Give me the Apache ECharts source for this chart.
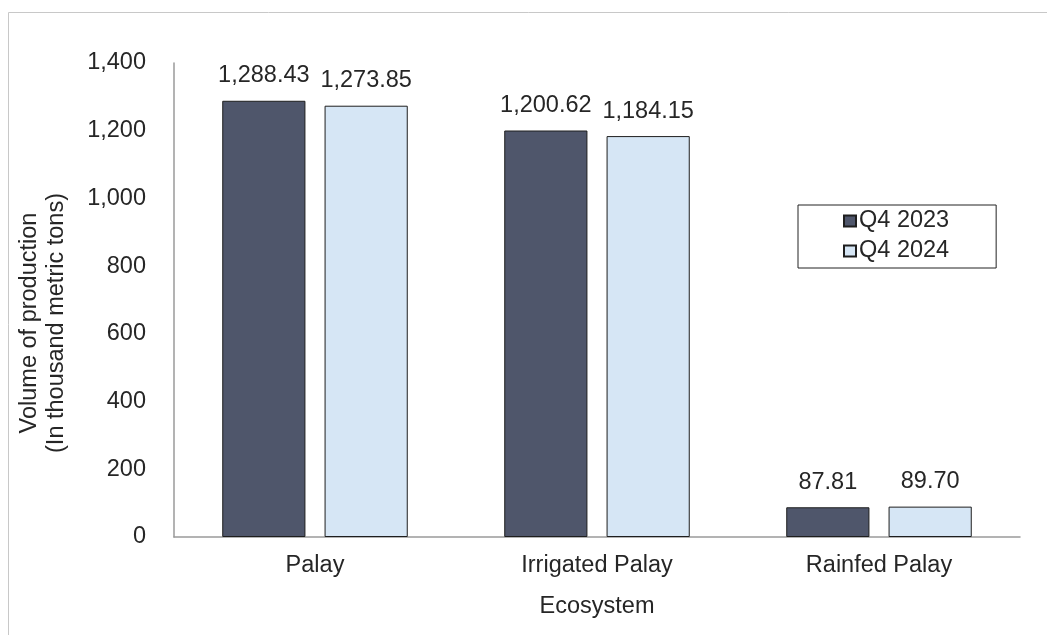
<!DOCTYPE html>
<html>
<head>
<meta charset="utf-8">
<script src="https://cdn.jsdelivr.net/npm/echarts@6/dist/echarts.min.js"></script>
<style>
  html, body { margin: 0; padding: 0; background: #ffffff; }
  #chart { width: 1047px; height: 635px; }
</style>
</head>
<body>
<div id="chart"></div>
<script>
// Palay production by ecosystem, fourth quarter
const categories = ['Palay', 'Irrigated Palay', 'Rainfed Palay'];
const q4_2023 = [1288.43, 1200.62, 87.81];
const q4_2024 = [1273.85, 1184.15, 89.70];
const seriesNames = ['Q4 2023', 'Q4 2024'];

const fontFamily = 'Liberation Sans, Arial, sans-serif';
const fontSize = 23.5;
const textColor = '#262626';
const fmt = v => v.toLocaleString('en-US', { minimumFractionDigits: 2, maximumFractionDigits: 2 });

const chart = echarts.init(document.getElementById('chart'), null, { renderer: 'canvas' });

const labelStyle = {
  show: true,
  position: 'top',
  distance: 13,
  color: textColor,
  fontSize,
  fontFamily,
  formatter: p => fmt(p.value)
};

chart.setOption({
  animation: false,
  backgroundColor: '#ffffff',
  graphic: [{
    type: 'rect',
    shape: { x: 8.5, y: 12.5, width: 1060, height: 640 },
    style: { fill: 'none', stroke: '#c8c8c8', lineWidth: 1 },
    silent: true
  }],
  legend: {
    orient: 'vertical',
    left: 798,
    top: 205,
    padding: [4, 47, 5, 45],
    itemGap: 6,
    itemWidth: 12,
    itemHeight: 11,
    borderColor: '#222',
    borderWidth: 1,
    textStyle: { fontSize, color: textColor, fontFamily, padding: [0, 0, 0, -2] },
    data: seriesNames.map(n => ({ name: n, icon: 'rect' }))
  },
  grid: { left: 174, right: 27, top: 63, bottom: 98, containLabel: false },
  xAxis: {
    type: 'category',
    data: categories,
    name: 'Ecosystem',
    nameLocation: 'middle',
    nameGap: 58,
    nameTextStyle: { fontSize, color: textColor, fontFamily },
    axisLine: { lineStyle: { color: '#9a9a9a', width: 1.5 } },
    axisTick: { show: false },
    axisLabel: { fontSize, color: textColor, fontFamily, margin: 17 }
  },
  yAxis: {
    type: 'value',
    min: 0,
    max: 1400,
    interval: 200,
    name: 'Volume of production\n(In thousand metric tons)',
    nameLocation: 'middle',
    nameGap: 104,
    nameRotate: 90,
    nameTextStyle: {
      fontSize, color: textColor, fontFamily, lineHeight: 27,
      padding: [0, 46, 0, 0]
    },
    axisLine: { show: true, lineStyle: { color: '#9a9a9a', width: 1.5 } },
    axisTick: { show: false },
    splitLine: { show: false },
    axisLabel: {
      fontSize, color: textColor, fontFamily, margin: 28,
      formatter: v => v.toLocaleString('en-US')
    }
  },
  series: [
    {
      name: seriesNames[0],
      type: 'bar',
      data: q4_2023,
      barWidth: '29.5%',
      barGap: '23%',
      itemStyle: { color: '#4f566b', borderColor: '#1e1e1e', borderWidth: 1 },
      label: labelStyle
    },
    {
      name: seriesNames[1],
      type: 'bar',
      data: q4_2024,
      barWidth: '29.5%',
      barGap: '23%',
      itemStyle: { color: '#d6e6f5', borderColor: '#1e1e1e', borderWidth: 1 },
      label: labelStyle
    }
  ]
});
</script>
</body>
</html>
